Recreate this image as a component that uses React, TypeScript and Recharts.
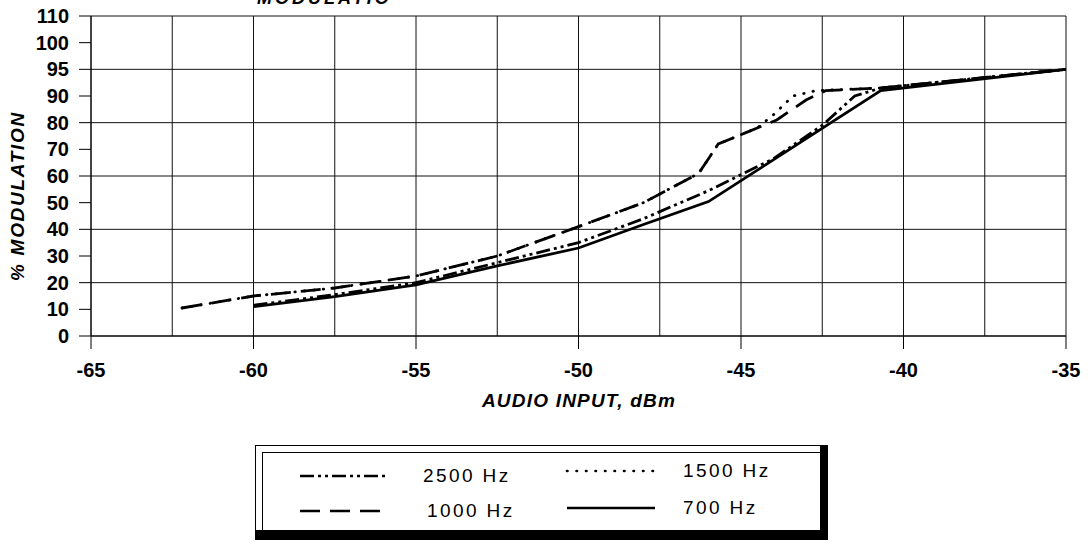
import React from 'react';
import { LineChart, Line, XAxis, YAxis, ReferenceLine } from 'recharts';

// y axis labels as printed (equally spaced on the chart)
const Y_LABELS = [0, 10, 20, 30, 40, 50, 60, 70, 80, 90, 95, 100, 110];
const X_TICKS = [-65, -60, -55, -50, -45, -40, -35];
const X_GRID = [-65, -62.5, -60, -57.5, -55, -52.5, -50, -47.5, -45, -42.5, -40, -37.5, -35];
const Y_GRID = [0, 2, 4, 6, 8, 10, 12];
const Y_POS = Y_LABELS.map((_, i) => i);

// AUDIO INPUT (dBm) / % MODULATION
const x2500 = [-60, -57.5, -55, -52.5, -50, -48, -46, -44, -42.5, -41.5, -40.7, -35];
const y2500 = [11.5, 15.5, 20, 27.5, 35, 44, 54.5, 66.5, 79, 90, 91.5, 95];

const x1500 = [-62.2, -60, -57.5, -55, -52.5, -50, -48, -46.3, -45.7, -44.5, -44, -43.4, -42.7, -40.7, -35];
const y1500 = [10.5, 15, 18, 22.5, 30, 41, 50, 61, 72, 78, 83, 90, 91, 91.5, 95];

const x1000 = [-62.2, -60, -57.5, -55, -52.5, -50, -48, -46.3, -45.7, -44.5, -43.9, -43, -42.4, -40.7, -35];
const y1000 = [10.5, 15, 18, 22.5, 30, 41, 50, 61, 72, 78, 81, 88.5, 91, 91.5, 95];

const x700 = [-60, -57.5, -55, -52.5, -50, -48, -46, -40.7, -35];
const y700 = [11, 14.8, 19.2, 26.3, 33, 41.8, 50.4, 91, 95];

// map a % value onto the (non-linear) printed axis
const toPos = (p: number) => {
  for (let i = 0; i < Y_LABELS.length - 1; i++) {
    const a = Y_LABELS[i];
    const b = Y_LABELS[i + 1];
    if (p <= b) return i + (p - a) / (b - a);
  }
  return Y_LABELS.length - 1;
};

const build = (xs: number[], ys: number[]) => xs.map((x, i) => ({ x, y: toPos(ys[i]), pct: ys[i] }));

const series = [
  { name: '1000 Hz', data: build(x1000, y1000), dash: '20 10', cap: 'butt' },
  { name: '1500 Hz', data: build(x1500, y1500), dash: '0.5 9', cap: 'round' },
  { name: '2500 Hz', data: build(x2500, y2500), dash: '14 4 3 4 3 4', cap: 'butt' },
  { name: '700 Hz', data: build(x700, y700), dash: undefined, cap: 'butt' },
];

const FONT = '"Liberation Sans", Arial, sans-serif';

const tickStyle = { fontSize: 20, fontWeight: 700, fill: '#000', fontFamily: FONT };

const Sample = ({ dash, cap }: { dash?: string; cap: string }) => (
  <svg width={92} height={10} style={{ display: 'block' }}>
    <line x1={2} y1={5} x2={90} y2={5} stroke="#000" strokeWidth={2.6}
      strokeDasharray={dash} strokeLinecap={cap as any} />
  </svg>
);

export default function App() {
  const byName = (n: string) => series.find(s => s.name === n)!;
  return (
    <div style={{ position: 'absolute', left: 0, top: 0, width: 1088, height: 546, background: '#fff', fontFamily: FONT, overflow: 'hidden' }}>
      {/* cut-off title at the very top */}
      <div style={{ position: 'absolute', left: 257, top: 0, width: 135, height: 5, overflow: 'hidden' }}>
        <div style={{ position: 'absolute', top: -11, left: 0, fontSize: 18, lineHeight: '18px', fontWeight: 700, fontStyle: 'italic', letterSpacing: 3, whiteSpace: 'nowrap' }}>
          MODULATION
        </div>
      </div>

      <div style={{ position: 'absolute', left: 0, top: 0 }}>
        <LineChart width={1088} height={390} margin={{ top: 16, right: 22, bottom: 0, left: 0 }}>
          <XAxis
            type="number"
            dataKey="x"
            domain={[-65, -35]}
            ticks={X_TICKS}
            interval={0}
            height={54}
            tickSize={13}
            tickMargin={14}
            tick={tickStyle}
            stroke="#000"
            allowDataOverflow
          />
          <YAxis
            type="number"
            domain={[0, 12]}
            ticks={Y_POS}
            interval={0}
            width={91}
            tickSize={12}
            tickMargin={10}
            tick={tickStyle}
            tickFormatter={(v: number) => String(Y_LABELS[Math.round(v)])}
            stroke="#000"
            allowDataOverflow
          />
          {X_GRID.map(v => (
            <ReferenceLine key={`gx${v}`} x={v} stroke="#111" strokeWidth={1} ifOverflow="visible" />
          ))}
          {Y_GRID.map(v => (
            <ReferenceLine key={`gy${v}`} y={v} stroke="#111" strokeWidth={1} ifOverflow="visible" />
          ))}
          {series.map(s => (
            <Line
              key={s.name}
              data={s.data}
              dataKey="y"
              name={s.name}
              type="linear"
              stroke="#000"
              strokeWidth={2.8}
              strokeDasharray={s.dash}
              strokeLinecap={s.cap as any}
              dot={false}
              activeDot={false}
              isAnimationActive={false}
            />
          ))}
        </LineChart>
      </div>

      {/* axis titles */}
      <div style={{ position: 'absolute', left: 379, top: 390, width: 400, textAlign: 'center', fontSize: 19, fontWeight: 700, fontStyle: 'italic', letterSpacing: 1.2, lineHeight: '22px' }}>
        AUDIO INPUT, dBm
      </div>
      <div style={{ position: 'absolute', left: 18, top: 196, width: 0, height: 0 }}>
        <div style={{ position: 'absolute', left: -110, top: -11, width: 220, textAlign: 'center', transform: 'rotate(-90deg)', fontSize: 19, fontWeight: 700, fontStyle: 'italic', letterSpacing: 1.7, lineHeight: '22px', whiteSpace: 'nowrap' }}>
          % MODULATION
        </div>
      </div>

      {/* legend box */}
      <div style={{ position: 'absolute', left: 255, top: 445, width: 564, height: 84, border: '1px solid #000', borderRightWidth: 8, borderBottomWidth: 10, boxSizing: 'content-box' }}>
        <div style={{ position: 'absolute', left: 6, top: 6, right: 0, bottom: 0, border: '1px solid #000', borderRight: 'none', borderBottom: 'none' }} />
        {[
          { n: '2500 Hz', sx: 42, tx: 167, y: 30 },
          { n: '1000 Hz', sx: 42, tx: 171, y: 65 },
          { n: '1500 Hz', sx: 309, tx: 427, y: 25 },
          { n: '700 Hz', sx: 309, tx: 427, y: 62 },
        ].map(it => {
          const s = byName(it.n);
          return (
            <React.Fragment key={it.n}>
              <div style={{ position: 'absolute', left: it.sx, top: it.y - 5 }}>
                <Sample dash={s.dash} cap={s.cap} />
              </div>
              <div style={{ position: 'absolute', left: it.tx, top: it.y - 12, fontSize: 19, lineHeight: '24px', letterSpacing: 2.4, whiteSpace: 'nowrap' }}>
                {it.n}
              </div>
            </React.Fragment>
          );
        })}
      </div>
    </div>
  );
}
